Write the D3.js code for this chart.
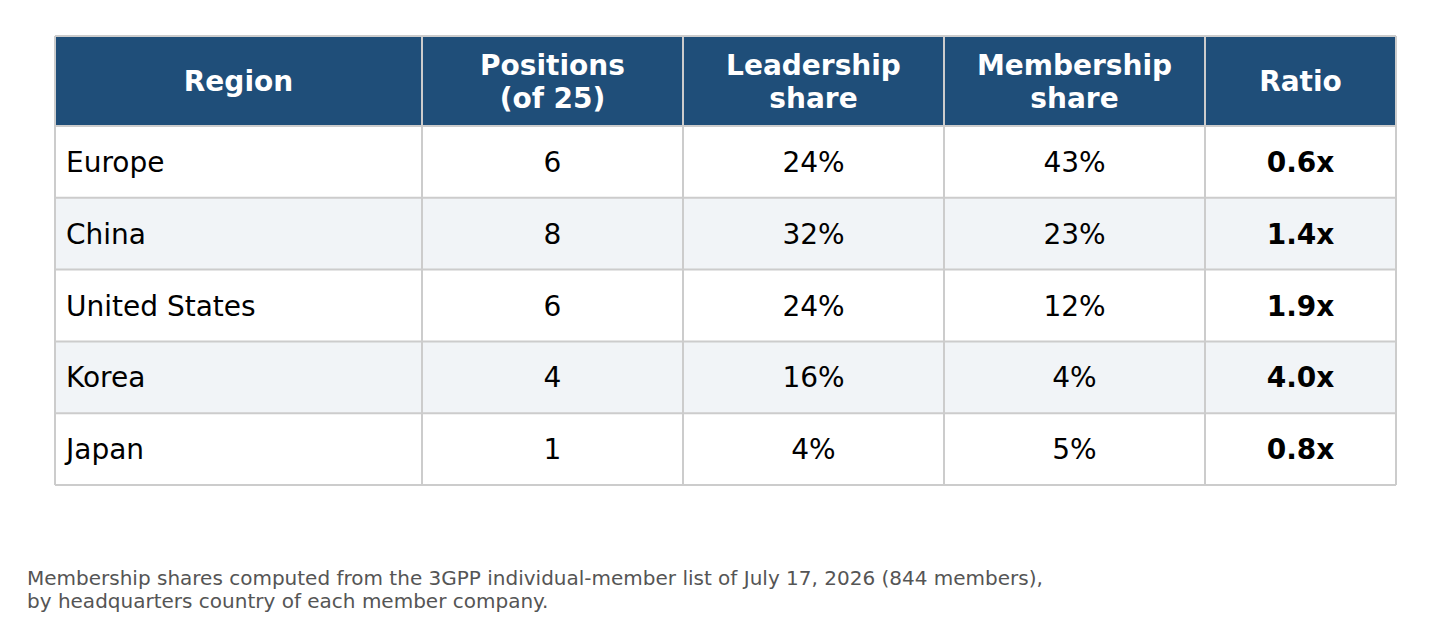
<!DOCTYPE html>
<html><head><meta charset="utf-8">
<script src="https://cdn.jsdelivr.net/npm/d3@7"></script>
<style>body{margin:0;background:#fff}</style></head>
<body><svg id="c" width="1451" height="631"></svg>
<script>
const headers = [["Region"],["Positions","(of 25)"],["Leadership","share"],["Membership","share"],["Ratio"]];
const regions = ["Europe","China","United States","Korea","Japan"];
const positions = ["6","8","6","4","1"];
const leadership = ["24%","32%","24%","16%","4%"];
const membership = ["43%","23%","12%","4%","5%"];
const ratio = ["0.6x","1.4x","1.9x","4.0x","0.8x"];
const colEdges = [55,422,683,944,1205,1396];
const svg = d3.select("#c");
const font = "DejaVu Sans, sans-serif";
const y = d3.scaleBand().domain(regions).range([126,485]);
const hTop = 36, hBot = 126;
const rows = regions.map((r,i)=>[r,positions[i],leadership[i],membership[i],ratio[i]]);
// header
svg.append("rect").attr("x",55).attr("y",hTop).attr("width",1341).attr("height",hBot-hTop).attr("fill","#1f4e79");
headers.forEach((h,j)=>{
  const cx=(colEdges[j]+colEdges[j+1])/2, cy=(hTop+hBot)/2;
  const t=svg.append("text").attr("x",cx).attr("text-anchor","middle").attr("fill","#fff")
    .attr("font-family",font).attr("font-weight","bold").attr("font-size",28);
  h.forEach((line,k)=>t.append("tspan").attr("x",cx).attr("y",cy+10+(k-(h.length-1)/2)*33).text(line));
});
rows.forEach((row,i)=>{
  const y0=y(regions[i]);
  svg.append("rect").attr("x",55).attr("y",y0).attr("width",1341).attr("height",y.bandwidth())
    .attr("fill",i%2?"#f1f4f7":"#fff");
  row.forEach((v,j)=>{
    svg.append("text").attr("x",j==0?66:(colEdges[j]+colEdges[j+1])/2).attr("y",y0+y.bandwidth()/2+10)
      .attr("text-anchor",j==0?"start":"middle").attr("font-family",font).attr("font-size",28)
      .attr("font-weight",j==4?"bold":"normal").attr("fill","#000").text(v);
  });
});
// grid
const g=svg.append("g").attr("stroke","#cccccc").attr("stroke-width",2);
colEdges.forEach(x=>g.append("line").attr("x1",x).attr("x2",x).attr("y1",hTop).attr("y2",485));
[hTop,...regions.map(r=>y(r)),485].forEach(yy=>g.append("line").attr("x1",55).attr("x2",1396).attr("y1",yy).attr("y2",yy));
const f=svg.append("text").attr("font-family",font).attr("font-size",20).attr("fill","#555");
f.append("tspan").attr("x",27).attr("y",585).text("Membership shares computed from the 3GPP individual-member list of July 17, 2026 (844 members),");
f.append("tspan").attr("x",27).attr("y",608).text("by headquarters country of each member company.");
</script></body></html>
